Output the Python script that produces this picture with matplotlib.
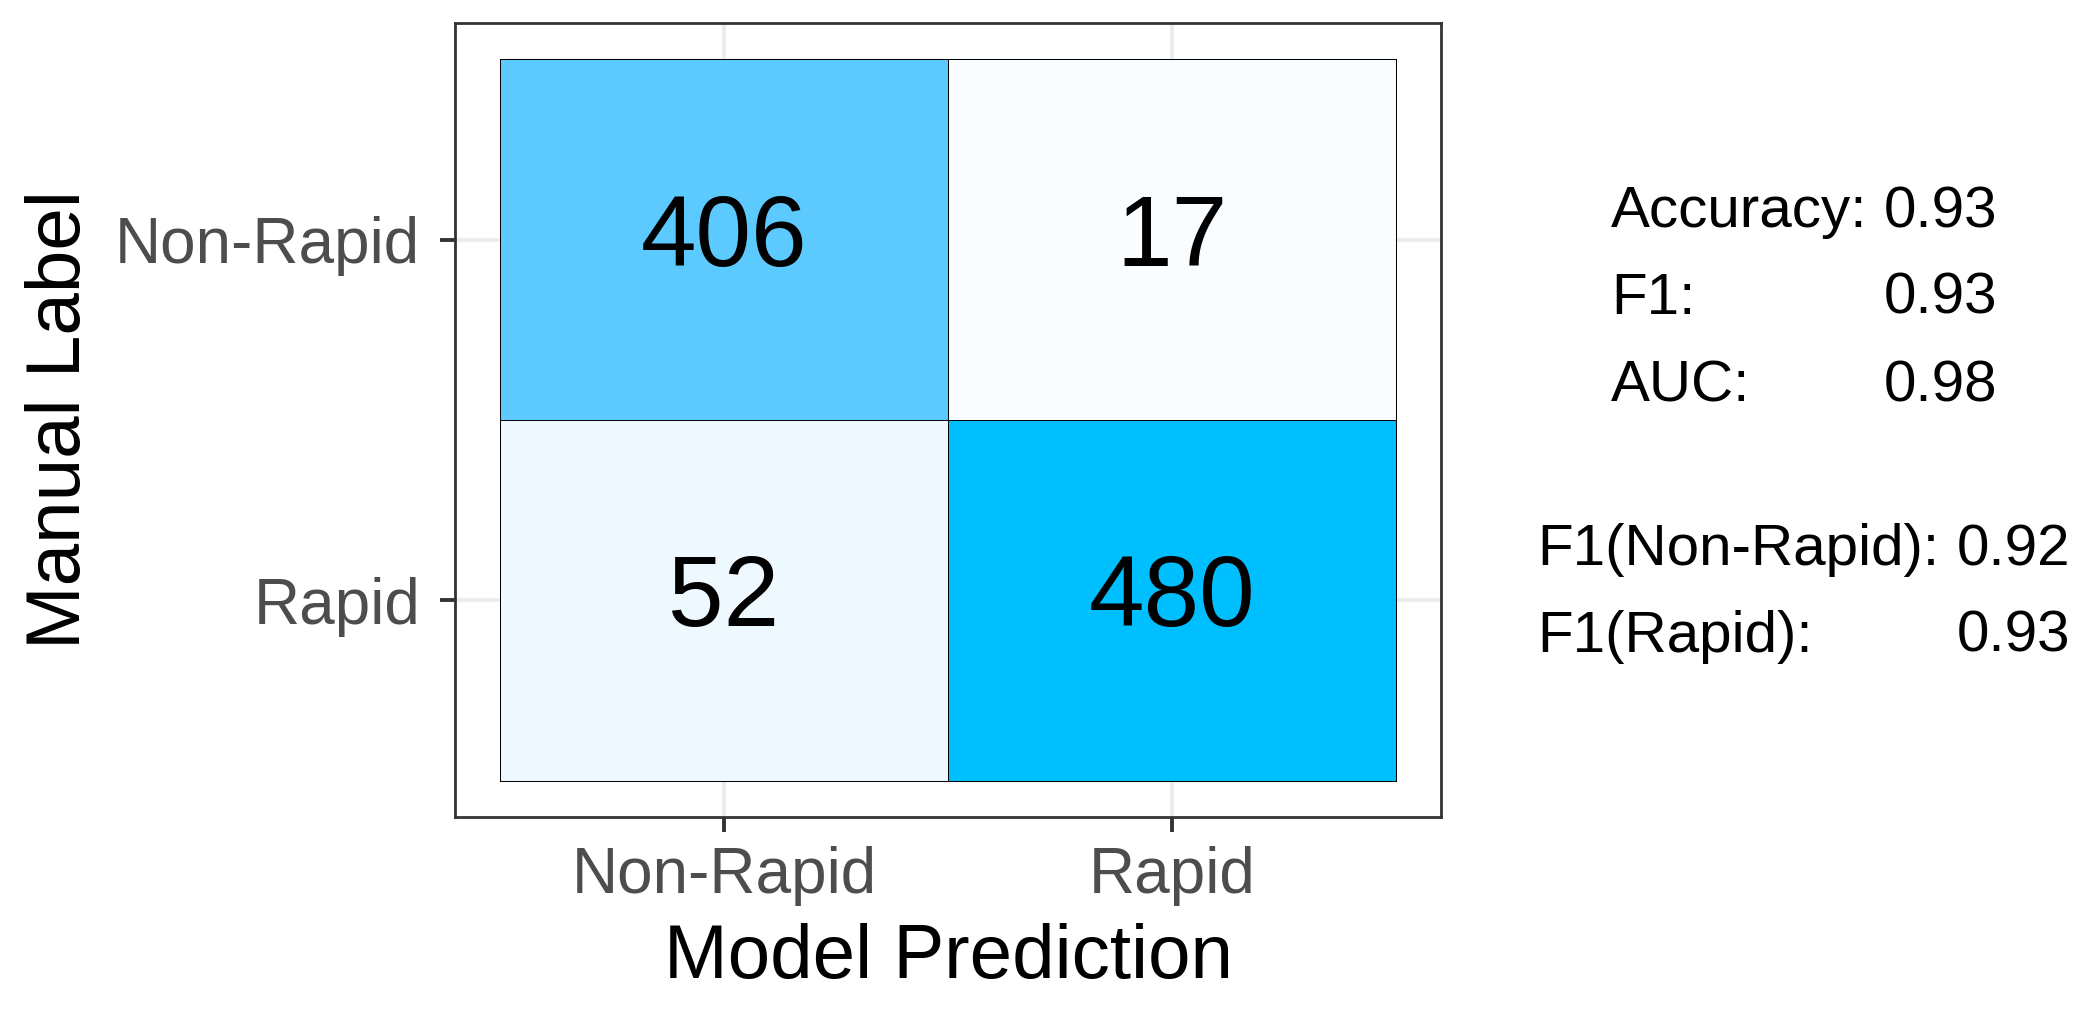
import numpy as np
import matplotlib
matplotlib.use("Agg")
import matplotlib.pyplot as plt
from matplotlib.colors import ListedColormap, Normalize, to_rgb

plt.rcParams['font.family'] = ['Liberation Sans', 'DejaVu Sans']

# confusion matrix: rows = manual label, cols = model prediction
class_labels = ["Non-Rapid", "Rapid"]
counts = [[406, 17],
          [52, 480]]

metric_names = ["Accuracy:", "F1:", "AUC:"]
metric_values = ["0.93", "0.93", "0.98"]
class_f1_names = ["F1(Non-Rapid):", "F1(Rapid):"]
class_f1_values = ["0.92", "0.93"]

LOW_COLOR = "#FFFFFF"
HIGH_COLOR = "#00BFFF"


def _srgb_to_lab(rgb):
    c = np.asarray(rgb, dtype=float)
    lin = np.where(c <= 0.04045, c / 12.92, ((c + 0.055) / 1.055) ** 2.4)
    m = np.array([[0.4124, 0.3576, 0.1805],
                  [0.2126, 0.7152, 0.0722],
                  [0.0193, 0.1192, 0.9505]])
    xyz = m @ lin / np.array([0.95047, 1.0, 1.08883])
    f = np.where(xyz > 0.008856, np.cbrt(xyz), 7.787 * xyz + 16 / 116)
    return np.array([116 * f[1] - 16, 500 * (f[0] - f[1]), 200 * (f[1] - f[2])])


def _lab_to_srgb(lab):
    L, a, b = lab
    fy = (L + 16) / 116
    f = np.array([fy + a / 500, fy, fy - b / 200])
    xyz = np.where(f ** 3 > 0.008856, f ** 3, (f - 16 / 116) / 7.787)
    xyz = xyz * np.array([0.95047, 1.0, 1.08883])
    m = np.array([[3.2406, -1.5372, -0.4986],
                  [-0.9689, 1.8758, 0.0415],
                  [0.0557, -0.2040, 1.0570]])
    lin = np.clip(m @ xyz, 0, 1)
    c = np.where(lin <= 0.0031308, 12.92 * lin, 1.055 * lin ** (1 / 2.4) - 0.055)
    return np.clip(c, 0, 1)


def lab_gradient(low, high, n=256):
    lo, hi = _srgb_to_lab(to_rgb(low)), _srgb_to_lab(to_rgb(high))
    return ListedColormap([_lab_to_srgb(lo + (hi - lo) * t) for t in np.linspace(0, 1, n)])


cmap = lab_gradient(LOW_COLOR, HIGH_COLOR)
norm = Normalize(vmin=0, vmax=np.max(counts))

W, H = 2087, 1010
fig = plt.figure(figsize=(W / 100, H / 100), dpi=100)
ax = fig.add_axes([455 / W, 1 - 817 / H, (1441 - 455) / W, (817 - 23) / H])

# y=2 is the top row (Non-Rapid), y=1 is bottom (Rapid)
z = np.array(counts)[::-1]
edges = np.arange(len(class_labels) + 1) + 0.5
ax.pcolormesh(edges, edges, z, cmap=cmap, norm=norm,
              edgecolors="black", linewidth=0.7, zorder=2)

for i, row in enumerate(counts):
    y = len(class_labels) - i
    for j, v in enumerate(row):
        ax.text(j + 1, y, str(v), ha="center", va="center",
                fontsize=72, color="black", zorder=3)

ax.set_xlim(0.4, 2.6)
ax.set_ylim(0.4, 2.6)
ticks = np.arange(1, len(class_labels) + 1)
ax.set_xticks(ticks)
ax.set_xticklabels(class_labels)
ax.set_yticks(ticks)
ax.set_yticklabels(class_labels[::-1])

ax.set_axisbelow(True)
ax.grid(True, color="#EBEBEB", linewidth=2.6)
for s in ax.spines.values():
    s.set_color("#333333")
    s.set_linewidth(2.0)
ax.tick_params(axis="both", length=11, width=2.8, color="#333333",
               labelcolor="#4D4D4D", labelsize=46)
ax.tick_params(axis="x", pad=10)
ax.tick_params(axis="y", pad=14)

ax.set_xlabel("Model Prediction", fontsize=55, labelpad=12)
ax.set_ylabel("Manual Label", fontsize=55, labelpad=14)

# metrics annotation on the right
def fx(px):
    return px / W

def fy(px):
    return 1 - px / H

for k, (name, val) in enumerate(zip(metric_names, metric_values)):
    y = fy(212 + k * 87)
    fig.text(fx(1611), y, name, ha="left", va="center", fontsize=42)
    fig.text(fx(1997), y, val, ha="right", va="center", fontsize=42)

for k, (name, val) in enumerate(zip(class_f1_names, class_f1_values)):
    y = fy(550 + k * 87)
    fig.text(fx(1537), y, name, ha="left", va="center", fontsize=42)
    fig.text(fx(2070), y, val, ha="right", va="center", fontsize=42)

fig.savefig("out.png", dpi=100, facecolor="white")
